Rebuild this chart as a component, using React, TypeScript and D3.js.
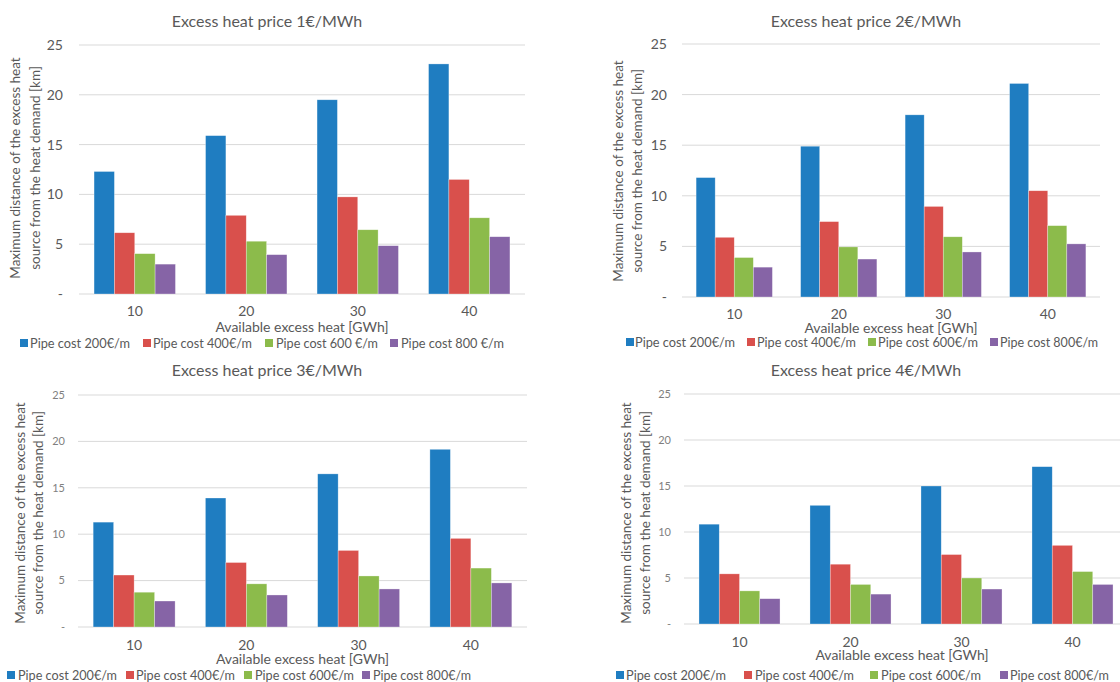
import React from "react";
import * as d3 from "d3";

// ---------- data ----------
const categories = ["10", "20", "30", "40"];
const yTickValues = [0, 5, 10, 15, 20, 25];
const yTickLabels = ["-", "5", "10", "15", "20", "25"];
const panelTitles = [
  "Excess heat price 1€/MWh",
  "Excess heat price 2€/MWh",
  "Excess heat price 3€/MWh",
  "Excess heat price 4€/MWh",
];
const legendLabelsPanel1 = ["Pipe cost 200€/m", "Pipe cost 400€/m", "Pipe cost 600 €/m", "Pipe cost 800 €/m"];
const legendLabels = ["Pipe cost 200€/m", "Pipe cost 400€/m", "Pipe cost 600€/m", "Pipe cost 800€/m"];
const xAxisTitle = "Available excess heat [GWh]";
const yAxisTitle1 = "Maximum distance of the excess heat";
const yAxisTitle2 = "source from the heat demand [km]";

// price 1 €/MWh
const price1Pipe200 = [12.3, 15.9, 19.5, 23.1];
const price1Pipe400 = [6.15, 7.9, 9.75, 11.5];
const price1Pipe600 = [4.05, 5.3, 6.45, 7.65];
const price1Pipe800 = [3.0, 3.95, 4.85, 5.75];
// price 2 €/MWh
const price2Pipe200 = [11.8, 14.9, 18.0, 21.1];
const price2Pipe400 = [5.9, 7.45, 8.95, 10.5];
const price2Pipe600 = [3.9, 4.95, 5.95, 7.05];
const price2Pipe800 = [2.95, 3.75, 4.45, 5.25];
// price 3 €/MWh
const price3Pipe200 = [11.3, 13.9, 16.5, 19.15];
const price3Pipe400 = [5.6, 6.95, 8.25, 9.55];
const price3Pipe600 = [3.75, 4.65, 5.5, 6.35];
const price3Pipe800 = [2.8, 3.45, 4.1, 4.75];
// price 4 €/MWh
const price4Pipe200 = [10.85, 12.9, 15.0, 17.1];
const price4Pipe400 = [5.45, 6.5, 7.55, 8.55];
const price4Pipe600 = [3.6, 4.3, 5.0, 5.7];
const price4Pipe800 = [2.75, 3.25, 3.8, 4.3];

// ---------- styles / layout ----------
const colors = ["#1f7dc1", "#d9504c", "#8cbb4b", "#8664a6"];
const textColor = "#595959";
const gridColor = "#d9d9d9";
const FONT = "Lato, 'Open Sans', sans-serif";

type Layout = {
  x0: number; x1: number; yZero: number; yTop: number;
  titleX: number; titleY: number;
  tickRight: number; tickSize: number; tickColor: string;
  yTitleX1: number; yTitleX2: number; yTitleY: number;
  catY: number; xTitleY: number; legendY: number;
  legendSquares: number[]; legendTexts: number[]; legendWidths: number[];
};

const layouts: Layout[] = [
  {
    x0: 79, x1: 525, yZero: 294, yTop: 45, titleX: 267, titleY: 21,
    tickRight: 63, tickSize: 14, tickColor: textColor, yTitleX1: 15, yTitleX2: 35, yTitleY: 168,
    catY: 311, xTitleY: 327, legendY: 343,
    legendSquares: [20, 143, 265, 390], legendTexts: [30, 153, 276, 401], legendWidths: [100, 99, 102, 103],
  },
  {
    x0: 682, x1: 1100, yZero: 297, yTop: 44, titleX: 866, titleY: 21,
    tickRight: 667, tickSize: 14, tickColor: textColor, yTitleX1: 618, yTitleX2: 637, yTitleY: 171,
    catY: 314, xTitleY: 328, legendY: 342,
    legendSquares: [626, 747, 868, 990], legendTexts: [635, 757, 878, 1000], legendWidths: [100, 99, 100, 98],
  },
  {
    x0: 78, x1: 527, yZero: 627, yTop: 395, titleX: 267, titleY: 370,
    tickRight: 65, tickSize: 11, tickColor: "#7f7f7f", yTitleX1: 20, yTitleX2: 38, yTitleY: 513,
    catY: 645, xTitleY: 659, legendY: 675,
    legendSquares: [7, 126, 244, 362], legendTexts: [18, 136, 255, 373], legendWidths: [99, 99, 99, 98],
  },
  {
    x0: 684, x1: 1128, yZero: 624, yTop: 394, titleX: 866, titleY: 370,
    tickRight: 671, tickSize: 11, tickColor: "#7f7f7f", yTitleX1: 626, yTitleX2: 645, yTitleY: 513,
    catY: 642, xTitleY: 655, legendY: 675,
    legendSquares: [616, 744, 870, 1000], legendTexts: [626, 755, 881, 1010], legendWidths: [100, 99, 100, 99],
  },
];

const panelValues = [
  [price1Pipe200, price1Pipe400, price1Pipe600, price1Pipe800],
  [price2Pipe200, price2Pipe400, price2Pipe600, price2Pipe800],
  [price3Pipe200, price3Pipe400, price3Pipe600, price3Pipe800],
  [price4Pipe200, price4Pipe400, price4Pipe600, price4Pipe800],
];

function Panel({ idx }: { idx: number }) {
  const L = layouts[idx];
  const values = panelValues[idx];
  const legend = idx === 0 ? legendLabelsPanel1 : legendLabels;
  const x = d3.scaleBand<string>().domain(categories).range([L.x0, L.x1]).paddingInner(0.27).paddingOuter(0.135);
  const xs = d3.scaleBand<number>().domain(d3.range(values.length)).range([0, x.bandwidth()]).padding(0);
  const y = d3.scaleLinear().domain([0, 25]).range([L.yZero, L.yTop]);
  return (
    <g>
      <text x={L.titleX} y={L.titleY} dy="0.35em" textAnchor="middle" fontSize={16} fill={textColor}>
        {panelTitles[idx]}
      </text>
      {yTickValues.map((v, i) => (
        <g key={"t" + i}>
          <line x1={L.x0} x2={L.x1} y1={y(v)} y2={y(v)} stroke={gridColor} strokeWidth={1} />
          <text x={L.tickRight} y={y(v)} dy="0.35em" textAnchor="end" fontSize={L.tickSize} fill={L.tickColor}>
            {yTickLabels[i]}
          </text>
        </g>
      ))}
      {categories.map((c, ci) => (
        <g key={"c" + ci}>
          {values.map((s, si) => (
            <rect
              key={si}
              x={(x(c) as number) + (xs(si) as number)}
              y={y(s[ci])}
              width={xs.bandwidth()}
              height={y(0) - y(s[ci])}
              fill={colors[si]}
              stroke="#ffffff"
              strokeOpacity={0.5}
              strokeWidth={0.6}
            />
          ))}
          <text x={(x(c) as number) + x.bandwidth() / 2} y={L.catY} dy="0.35em" textAnchor="middle" fontSize={14} fill={textColor}>
            {c}
          </text>
        </g>
      ))}
      <text x={(L.x0 + Math.min(L.x1, 1120)) / 2} y={L.xTitleY} dy="0.35em" textAnchor="middle" fontSize={14} fill={textColor}>
        {xAxisTitle}
      </text>
      <g transform={`translate(${L.yTitleX1},${L.yTitleY}) rotate(-90)`}>
        <text x={0} y={0} dy="0.35em" textAnchor="middle" fontSize={13.5} fill={textColor}>
          {yAxisTitle1}
        </text>
      </g>
      <g transform={`translate(${L.yTitleX2},${L.yTitleY}) rotate(-90)`}>
        <text x={0} y={0} dy="0.35em" textAnchor="middle" fontSize={13.5} fill={textColor}>
          {yAxisTitle2}
        </text>
      </g>
      {legend.map((lab, i) => (
        <g key={"l" + i}>
          <rect x={L.legendSquares[i]} y={L.legendY - 4} width={8} height={8} fill={colors[i]} />
          <text
            x={L.legendTexts[i]}
            y={L.legendY}
            dy="0.35em"
            fontSize={13.5}
            fill={textColor}
            textLength={L.legendWidths[i]}
            lengthAdjust="spacingAndGlyphs"
          >
            {lab}
          </text>
        </g>
      ))}
    </g>
  );
}

export default function App() {
  return (
    <svg
      width={1120}
      height={682}
      style={{ position: "absolute", left: 0, top: 0, background: "#fff", fontFamily: FONT }}
    >
      <rect x={0} y={0} width={1120} height={682} fill="#fff" />
      {[0, 1, 2, 3].map((i) => (
        <Panel key={i} idx={i} />
      ))}
    </svg>
  );
}
